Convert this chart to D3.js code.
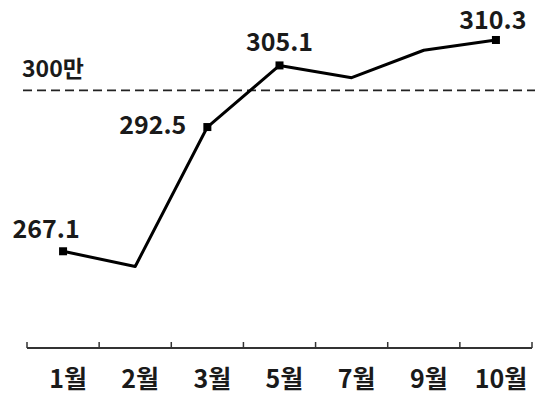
<!DOCTYPE html>
<html>
<head>
<meta charset="utf-8">
<script src="https://cdn.jsdelivr.net/npm/d3@7"></script>
<style>
  body { margin: 0; background: #fff; }
  text { font-family: "Noto Sans CJK KR", "Noto Sans", sans-serif; fill: #1a1a1a; }
</style>
</head>
<body>
<script>
// data
const months = ["1월", "2월", "3월", "5월", "7월", "9월", "10월"];
const values = [267.1, 264.0, 292.5, 305.1, 302.6, 308.2, 310.3];
const labeled = ["1월", "3월", "5월", "10월"];
const refValue = 300;
const refLabel = "300만";

const width = 540, height = 394;
const axisY = 348;

const svg = d3.select("body").append("svg")
    .attr("width", width)
    .attr("height", height);

const x = d3.scaleBand(months, [27, 532]).padding(0);
const y = d3.scaleLinear([260, 315], [286, 17]);
const cx = m => x(m) + x.bandwidth() / 2;

// reference line (300만)
svg.append("line")
    .attr("x1", 23).attr("x2", 535)
    .attr("y1", y(refValue)).attr("y2", y(refValue))
    .attr("stroke", "#222")
    .attr("stroke-width", 1.6)
    .attr("stroke-dasharray", "9,5");

svg.append("text")
    .attr("x", 22)
    .attr("y", y(refValue) - 13)
    .attr("font-size", 23)
    .attr("font-weight", 600)
    .text(refLabel);

// x axis: baseline, upward ticks at band edges, labels at centres
const axis = svg.append("g").attr("transform", `translate(0,${axisY})`);
axis.append("line")
    .attr("x1", x.range()[0]).attr("x2", x.range()[1])
    .attr("stroke", "#333").attr("stroke-width", 2);
axis.selectAll(".edge")
    .data(months.map(m => x(m)).concat([x.range()[1]]))
    .join("line")
    .attr("class", "edge")
    .attr("x1", d => d).attr("x2", d => d)
    .attr("y1", 0).attr("y2", -6)
    .attr("stroke", "#333").attr("stroke-width", 1.5);
axis.selectAll(".lbl")
    .data(months)
    .join("text")
    .attr("class", "lbl")
    .attr("x", d => cx(d) + 5)
    .attr("y", 40)
    .attr("text-anchor", "middle")
    .attr("font-size", 25)
    .attr("font-weight", 700)
    .text(d => d);

// the line
const pts = months.map((m, i) => ({ m, v: values[i] }));
const line = d3.line().x(d => cx(d.m)).y(d => y(d.v));

svg.append("path")
    .datum(pts)
    .attr("fill", "none")
    .attr("stroke", "#000")
    .attr("stroke-width", 3)
    .attr("stroke-linejoin", "round")
    .attr("d", line);

const marked = pts.filter(d => labeled.includes(d.m));
svg.selectAll(".mark")
    .data(marked)
    .join("rect")
    .attr("class", "mark")
    .attr("x", d => cx(d.m) - 4)
    .attr("y", d => y(d.v) - 4)
    .attr("width", 8).attr("height", 8)
    .attr("fill", "#000");

// value labels
const place = {
  "1월": { dx: -17, dy: -13, anchor: "middle" },
  "3월": { dx: -21, dy: 7, anchor: "end" },
  "5월": { dx: 0, dy: -14, anchor: "middle" },
  "10월": { dx: -3, dy: -11, anchor: "middle" }
};
svg.selectAll(".val")
    .data(marked)
    .join("text")
    .attr("class", "val")
    .attr("x", d => cx(d.m) + place[d.m].dx)
    .attr("y", d => y(d.v) + place[d.m].dy)
    .attr("text-anchor", d => place[d.m].anchor)
    .attr("font-size", 25)
    .attr("font-weight", 600)
    .text(d => d.v.toFixed(1));
</script>
</body>
</html>
